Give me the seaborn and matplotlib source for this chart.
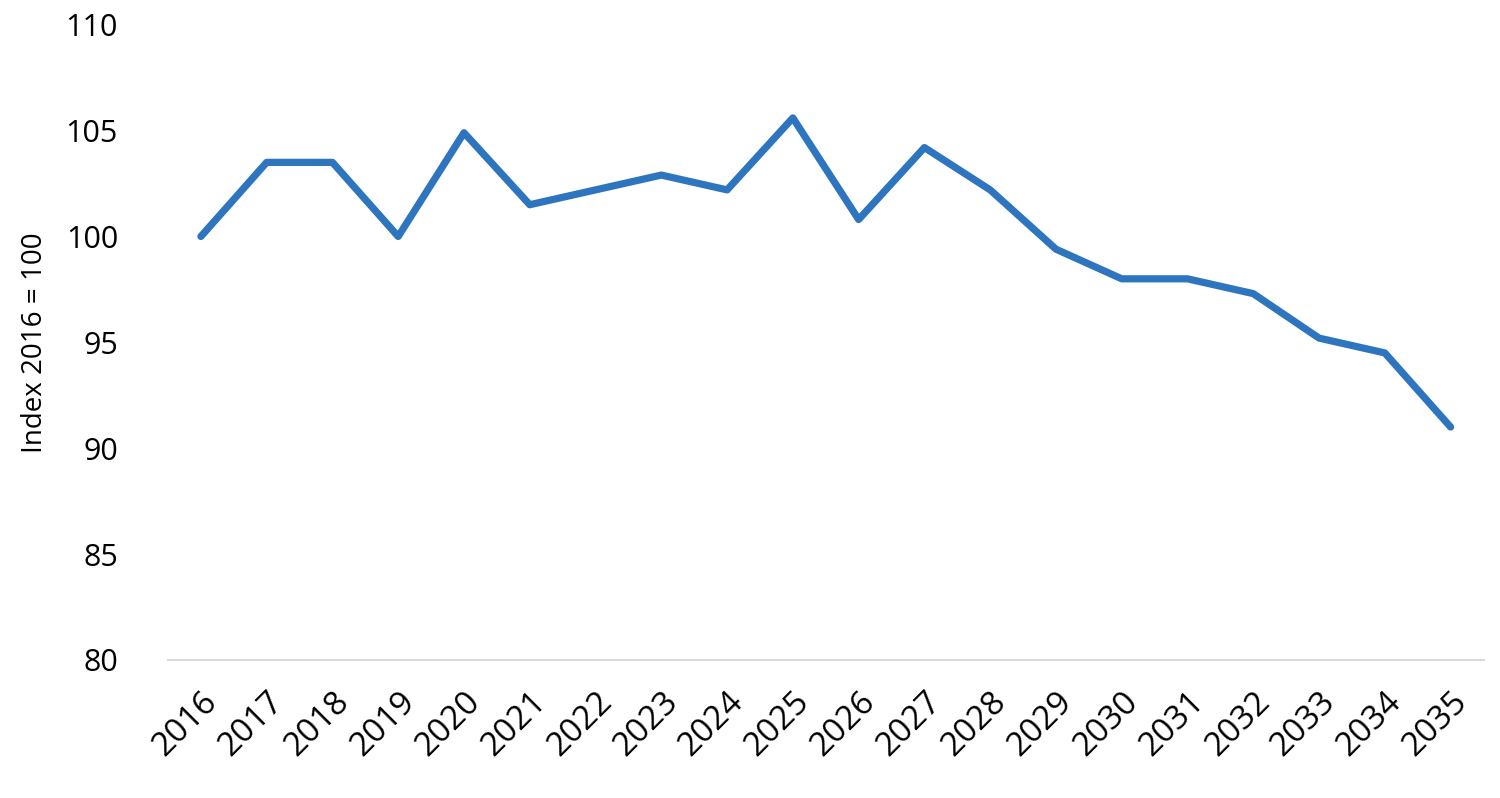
import numpy as np
import pandas as pd
import seaborn as sns
import matplotlib.pyplot as plt

# Datos
years = [str(y) for y in range(2016, 2036)]
index_values = [100.0, 103.5, 103.5, 100.0, 104.9, 101.5, 102.2, 102.9, 102.2, 105.6,
                100.8, 104.2, 102.2, 99.4, 98.0, 98.0, 97.3, 95.2, 94.5, 91.0]

df = pd.DataFrame({"year": years, "value": index_values})

sns.set_style("white")
plt.rcParams['font.family'] = ['Open Sans', 'DejaVu Sans']

fig = plt.figure(figsize=(15, 7.98), dpi=100)
ax = fig.add_axes([0.112, 0.173, 0.877, 0.796])

sns.lineplot(data=df, x="year", y="value", ax=ax, color="#2E75C0", linewidth=5.2)

ax.set_ylim(80, 110)
ax.set_yticks(range(80, 111, 5))
ax.set_xlim(-0.5, len(years) - 0.5)
ax.set_xlabel("")
ax.set_ylabel("Index 2016 = 100", fontsize=20, labelpad=12, color="black")

ax.tick_params(axis="y", labelsize=22, length=0, pad=36, labelcolor="black")
ax.tick_params(axis="x", labelsize=24, length=0, pad=18, labelcolor="black")
for lbl in ax.get_xticklabels():
    lbl.set_rotation(45)
    lbl.set_ha("right")
    lbl.set_rotation_mode("anchor")

for s in ["top", "right", "left"]:
    ax.spines[s].set_visible(False)
ax.spines["bottom"].set_color("#D9D9D9")
ax.spines["bottom"].set_linewidth(1.5)

fig.savefig("out.png", dpi=100)
